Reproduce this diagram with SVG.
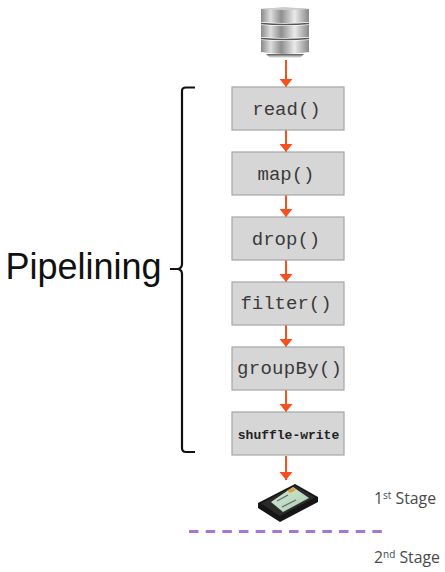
<svg xmlns="http://www.w3.org/2000/svg" width="445" height="572" viewBox="0 0 445 572">
<style>
.box{fill:#d6d6d6;stroke:#a6a6a6;stroke-width:1.2}
.code{font-family:"Liberation Mono",monospace;font-size:19px;fill:#3a3a3a;text-anchor:middle}
.conn{stroke:#f4511e;stroke-width:2;fill:none;marker-end:url(#ah)}
.stage{font-family:"Open Sans",sans-serif;font-size:15.800px;fill:#4a4a4a}
.sup{font-size:10px}
</style>
<defs>
<marker id="ah" markerUnits="userSpaceOnUse" markerWidth="9" markerHeight="14" refX="8" refY="7" orient="auto"><path d="M0 0.500L8 7L0 13.500Z" fill="#f4511e"/></marker>
<linearGradient id="cyl" x1="0" x2="1" y1="0" y2="0">
<stop offset="0" stop-color="#8a8a8a"/><stop offset=".2" stop-color="#dedede"/><stop offset=".42" stop-color="#8e8e8e"/><stop offset=".7" stop-color="#eaeaea"/><stop offset="1" stop-color="#888"/>
</linearGradient>
<linearGradient id="sh" x1="0" x2="0" y1="0" y2="1"><stop offset="0" stop-color="#555"/><stop offset="1" stop-color="#fff"/></linearGradient>
<linearGradient id="ssdl" x1="0" x2="1" y1="0" y2="1"><stop offset="0" stop-color="#d5ead5"/><stop offset="1" stop-color="#a9cdb2"/></linearGradient>
</defs>
<rect width="445" height="572" fill="#fff"/>
<g id="connectors">
<path class="conn" d="M286 60V87"/>
<path class="conn" d="M286 130V152"/>
<path class="conn" d="M286 195V217"/>
<path class="conn" d="M286 260V282"/>
<path class="conn" d="M286 325V347"/>
<path class="conn" d="M286 390V412"/>
<path class="conn" d="M286 456V480"/>
</g>
<g id="database">
<path d="M266 54H304L300 58H270Z" fill="url(#sh)"/>
<path d="M261 9Q285 6 309 9V22Q285 24 261 22Z" fill="url(#cyl)"/>
<path d="M261 25Q285 27 309 25V37Q285 39 261 37Z" fill="url(#cyl)"/>
<path d="M261 40Q285 42 309 40V52Q285 56 261 52Z" fill="url(#cyl)"/>
<path d="M261 9Q285 6 309 9Q285 11 261 9Z" fill="#ccc"/>
<path d="M261 23.500Q285 25.500 309 23.500M261 38.500Q285 40.500 309 38.500" stroke="#555" stroke-width="1.500" fill="none"/>
</g>
<g id="read"><rect class="box" x="232" y="87" width="112" height="43"/><text class="code" x="286.500" y="115">read()</text></g>
<g id="map"><rect class="box" x="232" y="152" width="112" height="43"/><text class="code" x="286" y="180">map()</text></g>
<g id="drop"><rect class="box" x="232" y="217" width="112" height="43"/><text class="code" x="286" y="245">drop()</text></g>
<g id="filter"><rect class="box" x="232" y="282" width="112" height="43"/><text class="code" x="286" y="309">filter()</text></g>
<g id="groupBy"><rect class="box" x="232" y="347" width="112" height="43"/><text class="code" x="289.500" y="374" textLength="105">groupBy()</text></g>
<g id="shuffle-write"><rect class="box" x="232" y="412" width="112" height="43"/><text x="288.500" y="439" font-family="Liberation Mono,monospace" font-size="13" font-weight="700" fill="#222" text-anchor="middle">shuffle-write</text></g>
<g id="pipelining">
<path d="M195 87.500H186Q182 87.500 182 91V264Q182 268 178 269H170M178 269Q182 270 182 274V448Q182 452 186 452H195" fill="none" stroke="#111" stroke-width="2.200"/>
<text x="5.500" y="279" font-family="Liberation Sans,sans-serif" font-size="36" fill="#111">Pipelining</text>
</g>
<g id="ssd">
<path d="M295 484L318 497V502L280 522L258 508V503Z" fill="#151515"/>
<path d="M295 485.500L315 497.500L280 516L261 503.500Z" fill="#2b2b2b"/>
<path d="M293 487L309 498L283 512L271 502Z" fill="url(#ssdl)"/>
<path d="M287 490.500L293 488L296 490L290 493Z" fill="#e0a030"/>
<path d="M277 501L288 495M282 507L296 500" stroke="#667" stroke-width="1.300"/>
</g>
<g id="stages">
<path d="M189 531.500H382" stroke="#a974d8" stroke-width="3" stroke-dasharray="9.500 7.170"/>
<text class="stage" x="374" y="504">1<tspan class="sup" dy="-5">st</tspan><tspan dy="5"> Stage</tspan></text>
<text class="stage" x="374" y="563">2<tspan class="sup" dy="-5">nd</tspan><tspan dy="5"> Stage</tspan></text>
</g>
</svg>
